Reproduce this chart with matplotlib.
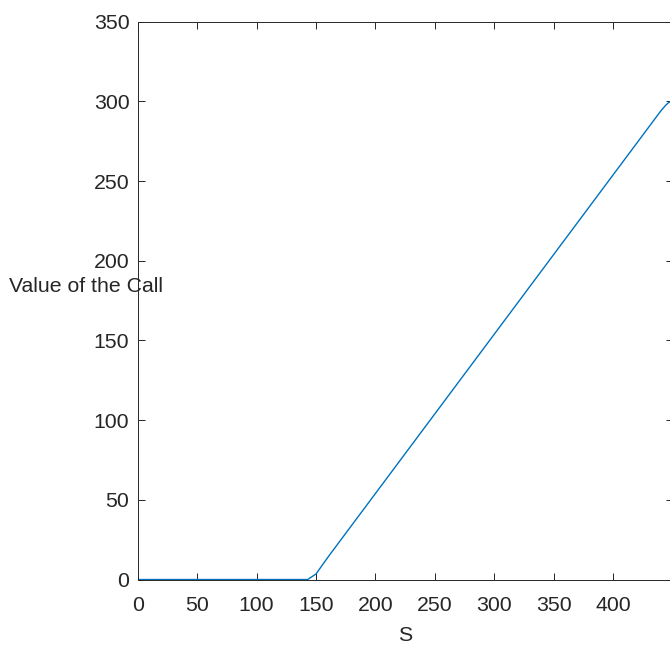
import matplotlib
matplotlib.use('Agg')
import matplotlib.pyplot as plt

# stock price grid and call value
S = [0, 50, 100, 140, 143, 150, 160, 200, 250, 300, 350, 400, 420, 430, 436, 440, 444, 447, 450]
V = [0, 0, 0, 0, 0, 3.5, 14, 54, 104, 154, 204, 254, 274, 284, 290, 294, 297.5, 299.5, 300]

xticks = [0, 50, 100, 150, 200, 250, 300, 350, 400]
yticks = [0, 50, 100, 150, 200, 250, 300, 350]

plt.rcParams['font.family'] = ['Liberation Sans', 'DejaVu Sans']
dark = '#262626'
fs = 15.3

fig = plt.figure(figsize=(6.70, 6.46), dpi=100)
ax = fig.add_axes([0.2055, 0.1029, 0.7985, 0.8635])
ax.plot(S, V, color='#0072BD', lw=1.0)

ax.set_xlim(0, 450)
ax.set_ylim(0, 350)
ax.set_xticks(xticks)
ax.set_yticks(yticks)
ax.tick_params(direction='in', top=True, right=True, length=5, width=0.7,
               colors=dark, labelsize=fs)
ax.tick_params(axis='x', pad=12)
ax.tick_params(axis='y', pad=6)
for sp in ax.spines.values():
    sp.set_color(dark)
    sp.set_linewidth(0.7)

ax.set_xlabel('S', fontsize=fs, color=dark, va='center')
ax.xaxis.set_label_coords(0.5, -0.1)
ax.set_ylabel('Value of the Call', fontsize=fs, color=dark, rotation=0,
              ha='center', va='center')
ax.yaxis.set_label_coords(-0.0957, 0.526)

fig.savefig('out.png', dpi=100)
